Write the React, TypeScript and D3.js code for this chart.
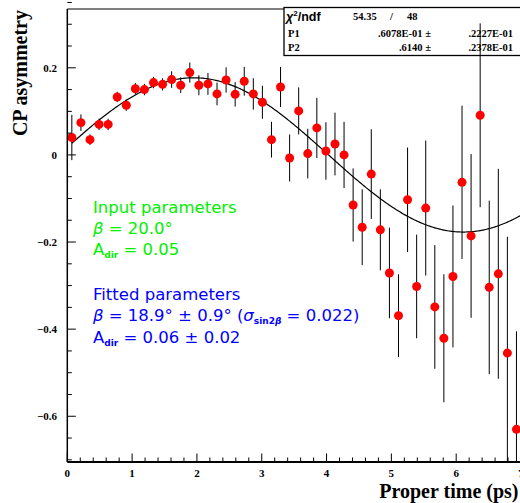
import React from "react";
import * as d3 from "d3";

// ---- data ----
const binCenters = [
  0.07, 0.21, 0.35, 0.49, 0.63, 0.77, 0.91, 1.05, 1.19, 1.33,
  1.47, 1.61, 1.75, 1.89, 2.03, 2.17, 2.31, 2.45, 2.59, 2.73,
  2.87, 3.01, 3.15, 3.29, 3.43, 3.57, 3.71, 3.85, 3.99, 4.13,
  4.27, 4.41, 4.55, 4.69, 4.83, 4.97, 5.11, 5.25, 5.39, 5.53,
  5.67, 5.81, 5.95, 6.09, 6.23, 6.37, 6.51, 6.65, 6.79, 6.93,
];
const asymmetry = [
  0.040, 0.074, 0.035, 0.070, 0.070, 0.133, 0.114, 0.152, 0.150, 0.166,
  0.162, 0.173, 0.160, 0.189, 0.160, 0.163, 0.140, 0.172, 0.139, 0.169,
  0.140, 0.121, 0.035, 0.156, -0.007, 0.101, 0.003, 0.062, 0.009, 0.025,
  0.000, -0.115, -0.166, -0.044, -0.172, -0.271, -0.369, -0.103, -0.302, -0.122,
  -0.349, -0.421, -0.279, -0.063, -0.186, 0.091, -0.304, -0.273, -0.455, -0.630,
];
const errors = [
  0.052, 0.019, 0.012, 0.013, 0.013, 0.012, 0.013, 0.013, 0.013, 0.013,
  0.014, 0.019, 0.018, 0.023, 0.023, 0.025, 0.026, 0.029, 0.028, 0.033,
  0.036, 0.038, 0.041, 0.046, 0.054, 0.054, 0.057, 0.069, 0.066, 0.072,
  0.076, 0.084, 0.087, 0.103, 0.093, 0.104, 0.095, 0.120, 0.119, 0.155,
  0.142, 0.147, 0.163, 0.176, 0.188, 0.211, 0.199, 0.241, 0.267, 0.225,
];
// fit parameters: P1 (A_dir), P2 (sin 2beta), dilution and oscillation frequency
const fitParams = [0.06078, 0.614];
const fitErrors = [0.02227, 0.02378];
const dilution = 0.287;
const omega = 0.755;
const yTickValues = [0.2, 0, -0.2, -0.4, -0.6];
const xTickValues = [0, 1, 2, 3, 4, 5, 6, 7];

const W = 520;
const H = 503;

export default function App() {
  const x = d3.scaleLinear().domain([0, 7]).range([67.3, 521]);
  const y = d3.scaleLinear().domain([-0.705, 0.335]).range([462, 9]);

  const fitFn = (t: number) =>
    dilution * (fitParams[0] * Math.cos(omega * t) + fitParams[1] * Math.sin(omega * t));
  const fitPts = d3.range(0.07, 7.0001, 0.02).map((t) => [t, fitFn(t)] as [number, number]);
  const line = d3
    .line<[number, number]>()
    .x((d) => x(d[0]))
    .y((d) => y(d[1]))
    .curve(d3.curveLinear);

  const yMinor = d3.range(-0.7, 0.3501, 0.05).map((v) => Math.round(v * 100) / 100);
  const xMinor = d3.range(0, 7.001, 0.2).map((v) => Math.round(v * 10) / 10);

  const serif = "'Liberation Serif', 'Times New Roman', serif";
  const sans = "'DejaVu Sans', sans-serif";
  const green = "#00f000";
  const blue = "#0000ff";

  const fmtY = (v: number) => (v === 0 ? "0" : d3.format(".1f")(v));

  return (
    <div style={{ position: "fixed", left: 0, top: 0 }}>
      <svg width={W} height={H} style={{ display: "block", background: "#fff" }}>
        <defs>
          <clipPath id="frameClip">
            <rect x={x(0)} y={y(0.335)} width={x(7) - x(0)} height={y(-0.705) - y(0.335)} />
          </clipPath>
        </defs>

        {/* frame */}
        <line x1={x(0)} x2={x(7)} y1={y(0.335)} y2={y(0.335)} stroke="#000" strokeWidth={1.2} />

        {/* stats box */}
        <rect x={284} y={7.5} width={240} height={48} fill="#fff" stroke="#000" strokeWidth={1.3} />
        <g fontFamily={serif} fontWeight="bold" fontSize={10.5} fill="#000">
          <text x={286} y={21} fontFamily="'Liberation Sans', Arial, sans-serif" fontSize={12.5}>
            <tspan fontStyle="italic">χ</tspan>
            <tspan fontSize={8} dy={-5}>2</tspan>
            <tspan dy={5}>/ndf</tspan>
          </text>
          <text x={353} y={20}>54.35</text>
          <text x={390} y={20}>/</text>
          <text x={407} y={20}>48</text>
          <text x={288} y={37}>P1</text>
          <text x={431} y={37} textAnchor="end">
            {"." + d3.format(".4f")(fitParams[0] * 10).slice(2) + "E-01 ±"}
          </text>
          <text x={513} y={37} textAnchor="end">
            {"." + d3.format(".4f")(fitErrors[0] * 10).slice(2) + "E-01"}
          </text>
          <text x={288} y={50.5}>P2</text>
          <text x={431} y={50.5} textAnchor="end">
            {"." + d3.format(".4f")(fitParams[1]).slice(2) + " ±"}
          </text>
          <text x={513} y={50.5} textAnchor="end">
            {"." + d3.format(".4f")(fitErrors[1] * 10).slice(2) + "E-01"}
          </text>
        </g>

        {/* fit curve */}
        <path d={line(fitPts) || ""} fill="none" stroke="#000" strokeWidth={1.2} clipPath="url(#frameClip)" />

        {/* data */}
        <g clipPath="url(#frameClip)">
          {binCenters.map((t, i) => (
            <line
              key={"e" + i}
              x1={x(t)}
              x2={x(t)}
              y1={y(asymmetry[i] + errors[i])}
              y2={y(asymmetry[i] - errors[i])}
              stroke="#000"
              strokeWidth={1}
            />
          ))}
          {binCenters.map((t, i) => (
            <circle key={"p" + i} cx={x(t)} cy={y(asymmetry[i])} r={4.5} fill="#ff0000" />
          ))}
        </g>

        {/* axes */}
        <line x1={x(0)} x2={x(0)} y1={y(0.335)} y2={y(-0.705)} stroke="#000" strokeWidth={1.5} />
        <line x1={x(0)} x2={x(7)} y1={y(-0.705)} y2={y(-0.705)} stroke="#000" strokeWidth={1.8} />
        {yMinor.map((v) => {
          const major = yTickValues.some((t) => Math.abs(t - v) < 1e-6);
          return (
            <line
              key={"yt" + v}
              x1={x(0)}
              x2={x(0) + (major ? 8.5 : 4.5)}
              y1={y(v)}
              y2={y(v)}
              stroke="#000"
              strokeWidth={1}
            />
          );
        })}
        {xMinor.map((v) => {
          const major = xTickValues.some((t) => Math.abs(t - v) < 1e-6);
          return (
            <line
              key={"xt" + v}
              x1={x(v)}
              x2={x(v)}
              y1={y(-0.705)}
              y2={y(-0.705) - (major ? 8.5 : 4.5)}
              stroke="#000"
              strokeWidth={1}
            />
          );
        })}
        <g fontFamily={serif} fontWeight="bold" fontSize={11} fill="#000">
          {yTickValues.map((v) => (
            <text key={"yl" + v} x={57} y={y(v)} dy="0.35em" textAnchor="end">
              {fmtY(v)}
            </text>
          ))}
          {xTickValues.map((v) => (
            <text key={"xl" + v} x={x(v)} y={476.5} textAnchor="middle">
              {v}
            </text>
          ))}
        </g>

        {/* axis titles */}
        <text
          transform={`translate(27,10) rotate(-90)`}
          textAnchor="end"
          fontFamily={serif}
          fontWeight="bold"
          fontSize={20}
        >
          CP asymmetry
        </text>
        <text x={518.5} y={498} textAnchor="end" fontFamily={serif} fontWeight="bold" fontSize={20}>
          Proper time (ps)
        </text>

        {/* annotations */}
        <g fontFamily={sans} fontSize={16.5} fill={green}>
          <text x={93} y={213}>Input parameters</text>
          <text x={93} y={234}>
            <tspan fontStyle="italic">β</tspan> = 20.0°
          </text>
          <text x={93} y={255}>
            A<tspan fontSize={9} fontWeight="bold" dy={3}>dir</tspan>
            <tspan dy={-3}> = 0.05</tspan>
          </text>
        </g>
        <g fontFamily={sans} fontSize={16.5} fill={blue}>
          <text x={93} y={299.5}>Fitted parameters</text>
          <text x={93} y={321}>
            <tspan fontStyle="italic">β</tspan> = 18.9° ± 0.9° (<tspan fontStyle="italic">σ</tspan>
            <tspan fontSize={9} fontWeight="bold" dy={3}>sin2</tspan>
            <tspan fontSize={9} fontWeight="bold" fontStyle="italic">β</tspan>
            <tspan dy={-3}> = 0.022)</tspan>
          </text>
          <text x={93} y={342.5}>
            A<tspan fontSize={9} fontWeight="bold" dy={3}>dir</tspan>
            <tspan dy={-3}> = 0.06 ± 0.02</tspan>
          </text>
        </g>
      </svg>
    </div>
  );
}
